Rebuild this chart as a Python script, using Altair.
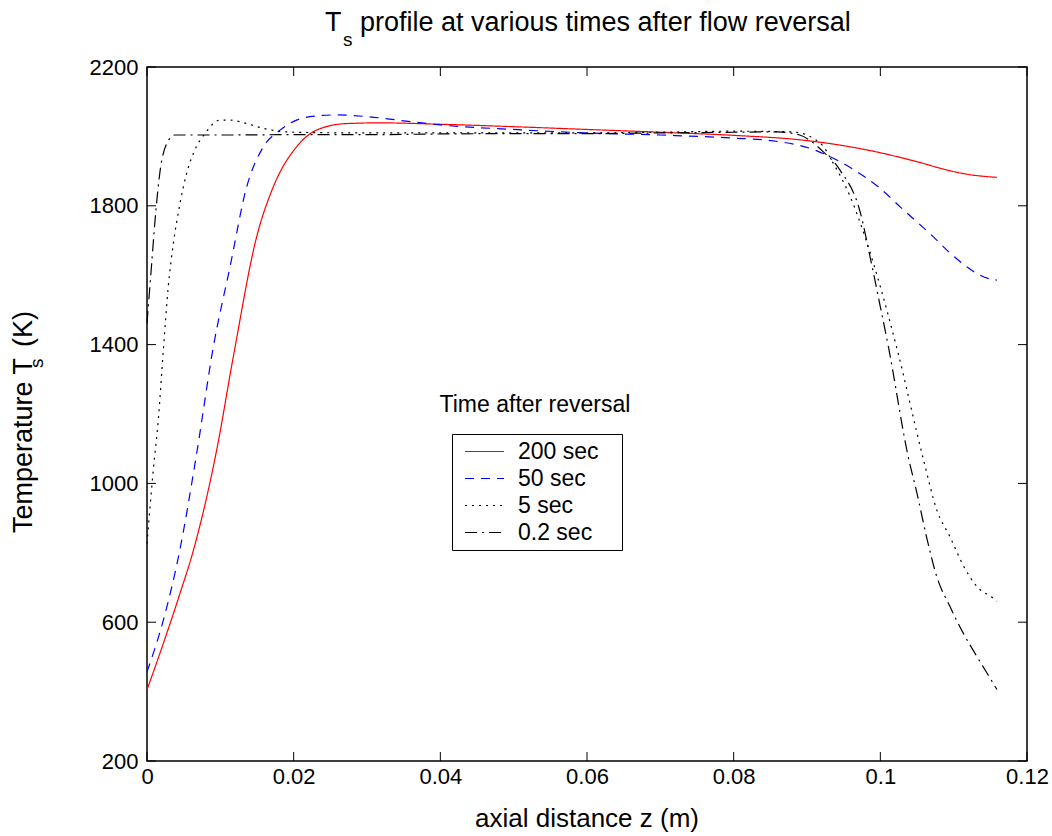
import altair as alt
import pandas as pd

FONT = "Liberation Sans"

series_names = ["200 sec", "50 sec", "5 sec", "0.2 sec"]
series_colors = ["#ff0000", "#0000ff", "#000000", "#000000"]
series_dash = [[1, 0], [9, 7], [2, 5], [12, 5, 2, 5]]
series_width = [1.2, 1.2, 1.6, 1.2]

z_200 = [0.0, 0.00223, 0.0045, 0.0063, 0.0095, 0.01177, 0.01496, 0.01723, 0.0204,
         0.0231, 0.0272, 0.0318, 0.04, 0.05, 0.06, 0.07, 0.08, 0.0891, 0.0959, 0.1004,
         0.105, 0.1095, 0.1118, 0.1159]
T_200 = [405, 539, 683, 805, 1096, 1365, 1711, 1855, 1970,
         2018, 2037, 2039, 2035, 2028, 2020, 2012, 2003, 1990, 1970, 1951,
         1927, 1901, 1891, 1882]

z_50 = [0.0, 0.00223, 0.0044, 0.00678, 0.00905, 0.01132, 0.0136, 0.01587, 0.01814, 0.0204,
        0.0231, 0.026, 0.03, 0.035, 0.04, 0.05, 0.06, 0.07, 0.08, 0.085, 0.0905, 0.0963,
        0.1, 0.1027, 0.1072, 0.1095, 0.115, 0.1159]
T_50 = [457, 606, 800, 1087, 1394, 1624, 1855, 1970, 2018, 2047,
        2059, 2062, 2057, 2045, 2033, 2020, 2010, 2004, 1995, 1988, 1965, 1905,
        1850, 1797, 1711, 1664, 1589, 1586]

z_5 = [0.0, 0.00086, 0.00154, 0.0022, 0.0029, 0.0036, 0.0045, 0.0054, 0.0065, 0.0079,
       0.00995, 0.0113, 0.0136, 0.0159, 0.02, 0.03, 0.04, 0.05, 0.06, 0.07, 0.08, 0.088,
       0.0918, 0.0936, 0.0959, 0.0982, 0.1, 0.1022, 0.1059, 0.1077, 0.1095, 0.1114,
       0.1132, 0.1154, 0.1159]
T_5 = [827, 1039, 1183, 1375, 1567, 1692, 1807, 1893, 1960, 2008,
       2047, 2047, 2037, 2023, 2012, 2010, 2010, 2010, 2010, 2012, 2015, 2013,
       1981, 1922, 1826, 1692, 1567, 1394, 1067, 923, 846, 760,
       702, 669, 660]

z_02 = [0.0, 0.00064, 0.0011, 0.0018, 0.0027, 0.0038, 0.01, 0.02, 0.03, 0.04, 0.05, 0.06,
        0.07, 0.08, 0.086, 0.089, 0.0922, 0.0945, 0.0973, 0.0986, 0.1, 0.1011, 0.1038,
        0.105, 0.1063, 0.1077, 0.1095, 0.1114, 0.1132, 0.1145, 0.1159]
T_02 = [1462, 1634, 1759, 1903, 1980, 2004, 2004, 2005, 2005, 2007, 2008, 2008,
        2010, 2012, 2013, 2004, 1956, 1903, 1778, 1653, 1509, 1394, 1077,
        971, 846, 731, 645, 565, 500, 455, 406]

x_ticks = [0, 0.02, 0.04, 0.06, 0.08, 0.1, 0.12]
y_ticks = [200, 600, 1000, 1400, 1800, 2200]

title_T = "T"
title_sub = "s"
title_rest = "profile at various times after flow reversal"
ylab_main = "Temperature T"
ylab_sub = "s"
ylab_unit = "(K)"
xlab = "axial distance z (m)"
legend_title = "Time after reversal"

frames = []
for name, zs, ts in [(series_names[0], z_200, T_200), (series_names[1], z_50, T_50),
                     (series_names[2], z_5, T_5), (series_names[3], z_02, T_02)]:
    frames.append(pd.DataFrame({"z": zs, "T": ts, "series": name}))
df = pd.concat(frames, ignore_index=True)

W, H = 880, 694

xscale = alt.Scale(domain=[0, 0.12], nice=False, zero=False)
yscale = alt.Scale(domain=[200, 2200], nice=False, zero=False)

leg = alt.Legend(
    title="\u2800", titleOrient="right", titleFontSize=20, titlePadding=4,
    orient="none", legendX=305, legendY=367,
    strokeColor="black", fillColor="white", padding=4,
    symbolType="stroke", symbolSize=1521, symbolStrokeWidth=1.3,
    symbolOffset=8, labelOffset=13, clipHeight=27, rowPadding=0,
    labelFont=FONT, labelFontSize=23, labelColor="black",
)

lines = alt.Chart(df).mark_line(interpolate="monotone").encode(
    x=alt.X("z:Q", scale=xscale,
            axis=alt.Axis(values=x_ticks, format="~g", title=None, labelPadding=5,
                          labelFlush=False)),
    y=alt.Y("T:Q", scale=yscale,
            axis=alt.Axis(values=y_ticks, format="d", title=None, labelPadding=9,
                          labelFlush=False)),
    color=alt.Color("series:N", scale=alt.Scale(domain=series_names, range=series_colors),
                    legend=leg),
    strokeDash=alt.StrokeDash("series:N", scale=alt.Scale(domain=series_names, range=series_dash),
                              legend=leg),
    strokeWidth=alt.StrokeWidth("series:N",
                                scale=alt.Scale(domain=series_names, range=series_width),
                                legend=None),
    order=alt.Order("z:Q"),
)

xt = pd.DataFrame({"x": x_ticks})
yt = pd.DataFrame({"y": y_ticks})
tick_style = dict(color="black", strokeWidth=1)
xb = alt.Chart(xt).mark_rule(**tick_style).encode(
    x=alt.X("x:Q", scale=xscale), y=alt.value(H), y2=alt.value(H - 9))
xtop = alt.Chart(xt).mark_rule(**tick_style).encode(
    x=alt.X("x:Q", scale=xscale), y=alt.value(0), y2=alt.value(9))
yl = alt.Chart(yt).mark_rule(**tick_style).encode(
    y=alt.Y("y:Q", scale=yscale), x=alt.value(0), x2=alt.value(9))
yr = alt.Chart(yt).mark_rule(**tick_style).encode(
    y=alt.Y("y:Q", scale=yscale), x=alt.value(W), x2=alt.value(W - 9))


def txt(s, x, y, size, align="left", angle=0):
    kw = dict(align=align, baseline="alphabetic", font=FONT, fontSize=size, color="black")
    if angle:
        kw["angle"] = angle
    return alt.Chart(pd.DataFrame({"t": [s]})).mark_text(**kw).encode(
        x=alt.value(x), y=alt.value(y), text="t:N")


texts = [
    txt(title_T, 178, -36, 27),
    txt(title_sub, 196, -21, 19),
    txt(title_rest, 213, -36, 27),
    txt(ylab_main, -115, 466, 27, angle=270),
    txt(ylab_sub, -104, 301, 19, angle=270),
    txt(ylab_unit, -115, 280, 27, angle=270),
    txt(xlab, 440, 760, 26, align="center"),
    txt(legend_title, 388, 345, 23, align="center"),
]

chart = alt.layer(lines, xb, xtop, yl, yr, *texts).properties(
    width=W, height=H,
    autosize=alt.AutoSizeParams(type="none"),
    padding={"left": 147, "top": 67, "right": 25, "bottom": 75},
    background="white",
).configure_view(
    stroke="black", strokeWidth=1.5
).configure_axis(
    domain=False, ticks=False, grid=False,
    labelFont=FONT, labelFontSize=22, labelColor="black",
)

chart.save("out.html", embed_options={"renderer": "svg", "actions": False})
